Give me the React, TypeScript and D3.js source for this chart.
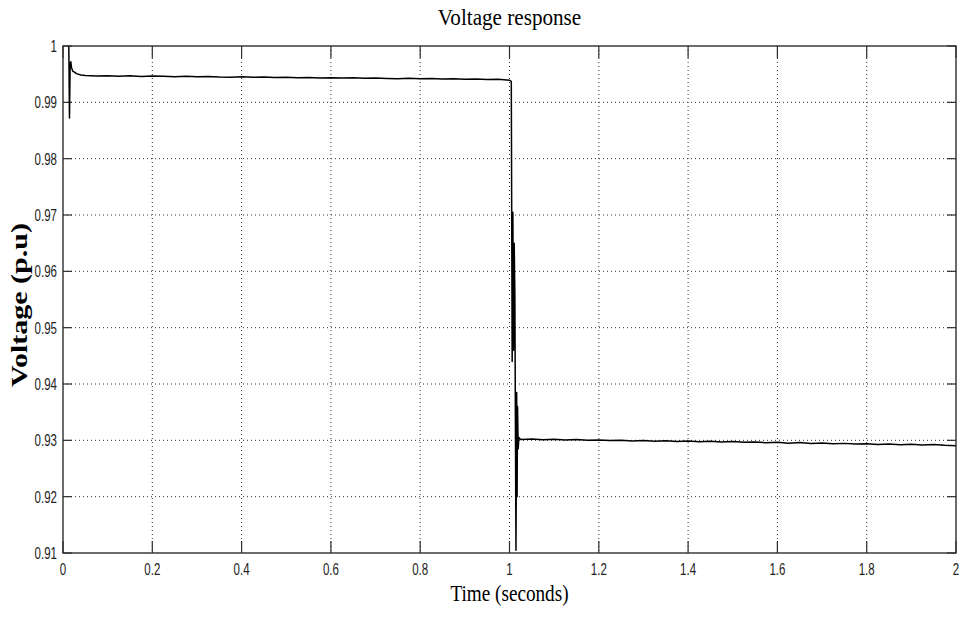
import React from 'react';
import * as d3 from 'd3';

const xTicks = [0, 0.2, 0.4, 0.6, 0.8, 1, 1.2, 1.4, 1.6, 1.8, 2];
const xTickLabels = ['0', '0.2', '0.4', '0.6', '0.8', '1', '1.2', '1.4', '1.6', '1.8', '2'];
const yTicks = [0.91, 0.92, 0.93, 0.94, 0.95, 0.96, 0.97, 0.98, 0.99, 1];
const yTickLabels = ['0.91', '0.92', '0.93', '0.94', '0.95', '0.96', '0.97', '0.98', '0.99', '1'];

// initial transient
const startTimes = [0.013, 0.0135, 0.0145, 0.016, 0.0175, 0.019, 0.022, 0.026, 0.03, 0.04];
const startVolts = [1.0, 0.996, 0.9872, 0.9968, 0.9972, 0.9962, 0.9955, 0.99535, 0.9951, 0.99485];

// steady state before the fault
const preTimes = [0.05, 0.075, 0.1, 0.125, 0.15, 0.175, 0.2, 0.225, 0.25, 0.275, 0.3, 0.325, 0.35, 0.375, 0.4,
  0.425, 0.45, 0.475, 0.5, 0.525, 0.55, 0.575, 0.6, 0.625, 0.65, 0.675, 0.7, 0.725, 0.75, 0.775, 0.8,
  0.825, 0.85, 0.875, 0.9, 0.925, 0.95, 0.975, 1.0];
const preVolts = [0.99475, 0.99468, 0.99472, 0.99463, 0.9947, 0.99458, 0.99466, 0.99461, 0.99455, 0.99463,
  0.99452, 0.99458, 0.9945, 0.99447, 0.99455, 0.99444, 0.99449, 0.9944, 0.99446, 0.99436, 0.99442, 0.99433,
  0.99437, 0.9943, 0.99436, 0.99426, 0.99431, 0.99424, 0.9942, 0.99428, 0.99417, 0.99421, 0.99412, 0.99418,
  0.99408, 0.99413, 0.99404, 0.99409, 0.99392];

// fault transient
const dropTimes = [1.004, 1.006, 1.0075, 1.009, 1.0105, 1.012, 1.0145, 1.016, 1.017, 1.018, 1.0195, 1.021, 1.025];
const dropVolts = [0.9937, 0.944, 0.9705, 0.946, 0.965, 0.956, 0.9105, 0.9385, 0.92, 0.936, 0.9285, 0.9305, 0.93015];

// steady state after the fault
const postTimes = [1.05, 1.075, 1.1, 1.125, 1.15, 1.175, 1.2, 1.225, 1.25, 1.275, 1.3, 1.325, 1.35, 1.375, 1.4,
  1.425, 1.45, 1.475, 1.5, 1.525, 1.55, 1.575, 1.6, 1.625, 1.65, 1.675, 1.7, 1.725, 1.75, 1.775, 1.8,
  1.825, 1.85, 1.875, 1.9, 1.925, 1.95, 1.975, 2.0];
const postVolts = [0.93022, 0.9301, 0.93018, 0.93006, 0.93013, 0.93, 0.93008, 0.92995, 0.93003, 0.9299,
  0.92998, 0.92985, 0.92992, 0.9298, 0.92988, 0.92975, 0.92982, 0.9297, 0.92978, 0.92964, 0.92972, 0.92958,
  0.92965, 0.9295, 0.9296, 0.92945, 0.92952, 0.9294, 0.92946, 0.92934, 0.9294, 0.92928, 0.92935, 0.92922,
  0.9293, 0.92918, 0.92924, 0.92912, 0.92905];

const W = 961;
const H = 617;
const L = 63, R = 956, T = 46, B = 553;

export default function App() {
  const x = d3.scaleLinear().domain([0, 2]).range([L, R]);
  const y = d3.scaleLinear().domain([0.91, 1]).range([B, T]);

  const times = [...startTimes, ...preTimes, ...dropTimes, ...postTimes];
  const volts = [...startVolts, ...preVolts, ...dropVolts, ...postVolts];
  const pts: [number, number][] = times.map((t, i) => [t, volts[i]]);
  const line = d3.line<[number, number]>().x(d => x(d[0])).y(d => y(d[1]));

  const axisColor = '#2e2e2e';
  const tickFont = '"Liberation Sans", Arial, sans-serif';
  const serif = '"Liberation Serif", "Times New Roman", serif';

  return (
    <svg width={W} height={H} style={{ position: 'absolute', left: 0, top: 0, background: '#fff' }}>
      <rect x={0} y={0} width={W} height={H} fill="#fff" />
      {/* grid */}
      {xTicks.slice(1, -1).map(t => (
        <line key={'gx' + t} x1={x(t)} x2={x(t)} y1={T} y2={B} stroke="#333" strokeWidth={1} strokeDasharray="1 3" />
      ))}
      {yTicks.slice(1, -1).map(t => (
        <line key={'gy' + t} x1={L} x2={R} y1={y(t)} y2={y(t)} stroke="#333" strokeWidth={1} strokeDasharray="1 3" />
      ))}
      {/* ticks */}
      {xTicks.map(t => (
        <g key={'tx' + t}>
          <line x1={x(t)} x2={x(t)} y1={B} y2={B - 12} stroke={axisColor} strokeWidth={1.2} />
          <line x1={x(t)} x2={x(t)} y1={T} y2={T + 12} stroke={axisColor} strokeWidth={1.2} />
        </g>
      ))}
      {yTicks.map(t => (
        <g key={'ty' + t}>
          <line x1={L} x2={L + 9} y1={y(t)} y2={y(t)} stroke={axisColor} strokeWidth={1.2} />
          <line x1={R} x2={R - 9} y1={y(t)} y2={y(t)} stroke={axisColor} strokeWidth={1.2} />
        </g>
      ))}
      {/* data */}
      <path d={line(pts) || ''} fill="none" stroke="#000" strokeWidth={1.5} strokeLinejoin="round" />
      {/* box */}
      <rect x={L} y={T} width={R - L} height={B - T} fill="none" stroke={axisColor} strokeWidth={1.4} />
      {/* tick labels */}
      {xTicks.map((t, i) => (
        <g key={'lx' + t} transform={`translate(${x(t)},${575}) scale(0.72,1)`}>
          <text textAnchor="middle" fontFamily={tickFont} fontSize={16} fill="#222">{xTickLabels[i]}</text>
        </g>
      ))}
      {yTicks.map((t, i) => (
        <g key={'ly' + t} transform={`translate(${57},${y(t) + 6}) scale(0.72,1)`}>
          <text textAnchor="end" fontFamily={tickFont} fontSize={16} fill="#222">{yTickLabels[i]}</text>
        </g>
      ))}
      {/* title */}
      <g transform={`translate(${(L + R) / 2},${25}) scale(0.92,1)`}>
        <text textAnchor="middle" fontFamily={serif} fontSize={23} fill="#000">Voltage response</text>
      </g>
      {/* x label */}
      <g transform={`translate(${(L + R) / 2},${601}) scale(0.8,1)`}>
        <text textAnchor="middle" fontFamily={serif} fontSize={24} fill="#000">Time (seconds)</text>
      </g>
      {/* y label */}
      <g transform={`translate(${27},${305}) scale(0.75,1) rotate(-90)`}>
        <text textAnchor="middle" fontFamily={serif} fontSize={30} fontWeight="bold" fill="#000">Voltage (p.u)</text>
      </g>
    </svg>
  );
}
